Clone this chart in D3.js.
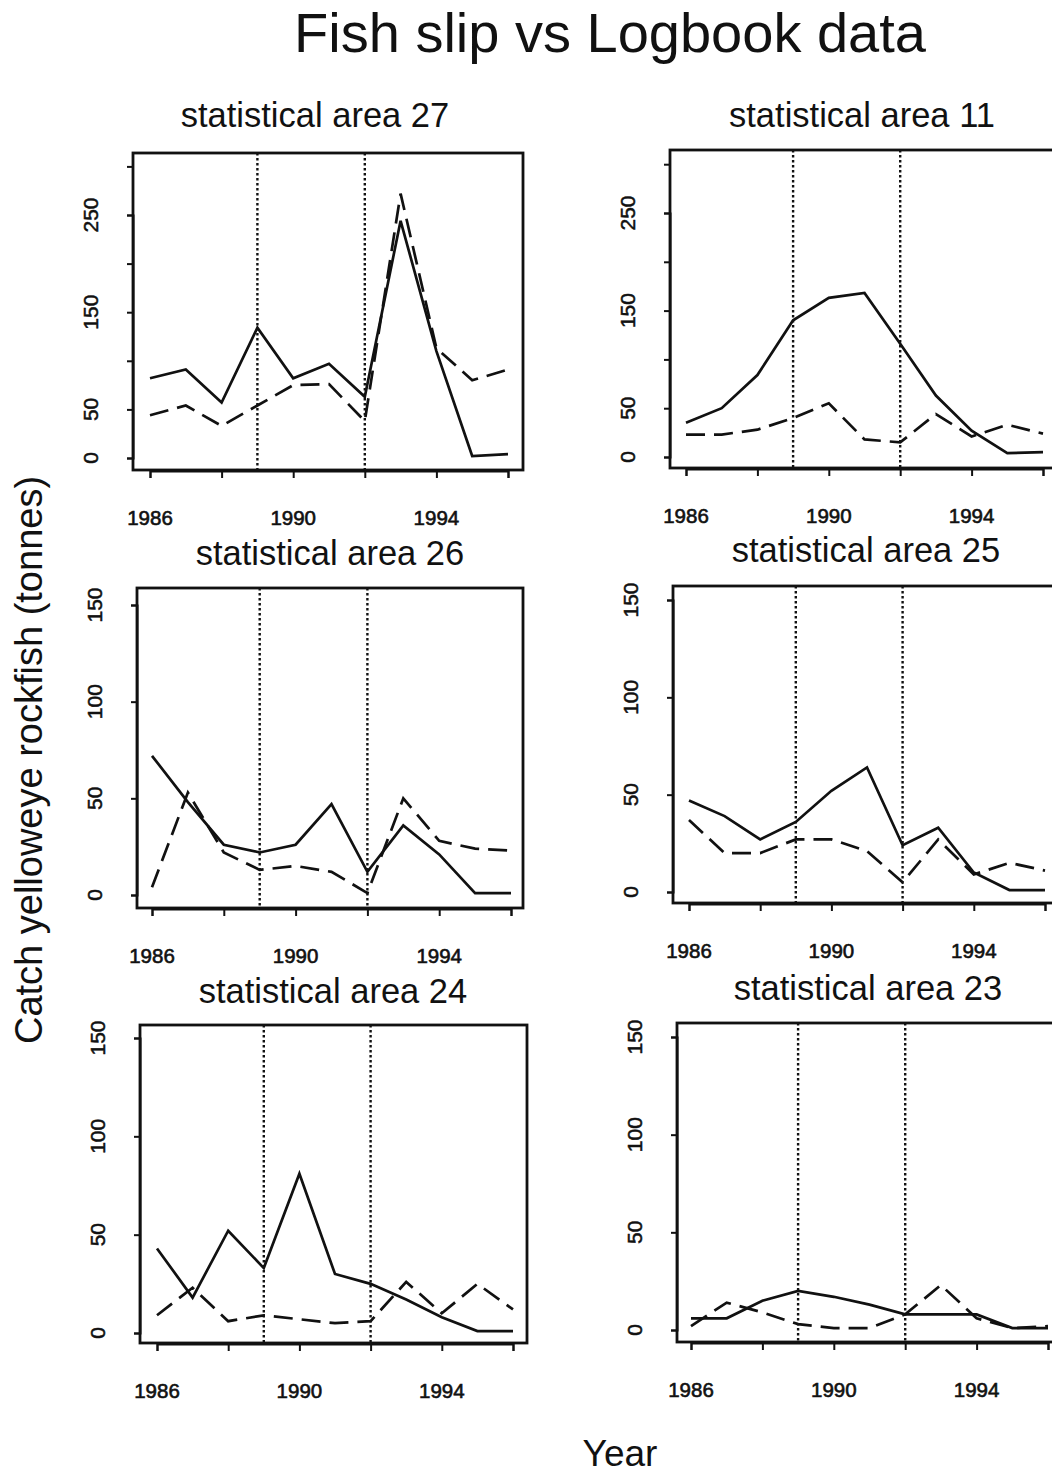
<!DOCTYPE html>
<html>
<head>
<meta charset="utf-8">
<script src="https://cdn.jsdelivr.net/npm/d3@7"></script>
<style>
  html, body { margin: 0; padding: 0; background: #fff; }
  svg { display: block; }
  text { font-family: "Liberation Sans", Arial, Helvetica, sans-serif; fill: #111; }
</style>
</head>
<body>
<svg id="chart" width="1052" height="1473"></svg>
<script>
// Annual catch of yelloweye rockfish (tonnes) by statistical area
const years = [1986, 1987, 1988, 1989, 1990, 1991, 1992, 1993, 1994, 1995, 1996];
const areas = ["27", "11", "26", "25", "24", "23"];

const fishSlip27 = [82, 91, 57, 134, 82, 97, 63, 244, 110, 2, 4];
const logbook27  = [44, 54, 33, 54, 75, 76, 38, 272, 113, 80, 91];
const fishSlip11 = [35, 50, 84, 140, 163, 168, 116, 63, 27, 4, 5];
const logbook11  = [23, 23, 28, 40, 55, 18, 15, 44, 21, 33, 24];
const fishSlip26 = [72, 48, 26, 22, 26, 47, 12, 36, 21, 1, 1];
const logbook26  = [4, 53, 22, 13, 15, 12, 1, 50, 28, 24, 23];
const fishSlip25 = [47, 39, 27, 36, 52, 64, 24, 33, 10, 1, 1];
const logbook25  = [37, 20, 20, 27, 27, 21, 5, 27, 9, 15, 11];
const fishSlip24 = [43, 18, 52, 33, 81, 30, 25, 17, 8, 1, 1];
const logbook24  = [9, 23, 6, 9, 7, 5, 6, 26, 10, 25, 12];
const fishSlip23 = [6, 6, 15, 20, 17, 13, 8, 8, 8, 1, 1];
const logbook23  = [2, 14, 9, 3, 1, 1, 8, 23, 6, 1, 2];

// Years where the reporting regime changed
const breakYears = [1989, 1992];

// Axis ticks and labels
const xTicks = [1986, 1988, 1990, 1992, 1994, 1996];
const xTickLabels = [1986, 1990, 1994];
const yTicksTop = [0, 50, 100, 150, 200, 250, 300];
const yTickLabelsTop = [0, 50, 150, 250];
const yTicksLow = [0, 50, 100, 150];
const yTickLabelsLow = [0, 50, 100, 150];

const seriesByArea = {
  "27": [fishSlip27, logbook27],
  "11": [fishSlip11, logbook11],
  "26": [fishSlip26, logbook26],
  "25": [fishSlip25, logbook25],
  "24": [fishSlip24, logbook24],
  "23": [fishSlip23, logbook23]
};

// Panel geometry: plot box, x pixel span for 1986..1996, y pixel span for 0..yRef
const layout = [
  { box: [133, 153, 523, 470], xr: [150, 508], yRef: 250, yr: [458, 215], tx: 315, ty: 127, top: true },
  { box: [670, 150, 1058, 468], xr: [686, 1043], yRef: 250, yr: [457, 213], tx: 862, ty: 127, top: true },
  { box: [137, 588, 523, 908], xr: [152, 511], yRef: 150, yr: [895, 605], tx: 330, ty: 565, top: false },
  { box: [673, 586, 1060, 903], xr: [689, 1045], yRef: 150, yr: [892, 600], tx: 866, ty: 562, top: false },
  { box: [140, 1025, 527, 1343], xr: [157, 513], yRef: 150, yr: [1333, 1038], tx: 333, ty: 1003, top: false },
  { box: [677, 1023, 1064, 1342], xr: [691, 1048], yRef: 150, yr: [1330, 1037], tx: 868, ty: 1000, top: false }
];

const svg = d3.select("#chart");

svg.append("text")
  .attr("x", 610).attr("y", 52)
  .attr("text-anchor", "middle")
  .attr("font-size", 56)
  .text("Fish slip vs Logbook data");

svg.append("text")
  .attr("transform", "translate(42,760) rotate(-90)")
  .attr("text-anchor", "middle")
  .attr("font-size", 38)
  .text("Catch yelloweye rockfish (tonnes)");

svg.append("text")
  .attr("x", 620).attr("y", 1466)
  .attr("text-anchor", "middle")
  .attr("font-size", 37)
  .text("Year");

areas.forEach((area, i) => {
  const L = layout[i];
  const [bx0, by0, bx1, by1] = L.box;
  const x = d3.scaleLinear().domain([1986, 1996]).range(L.xr);
  const y = d3.scaleLinear().domain([0, L.yRef]).range(L.yr);
  const g = svg.append("g");

  const yTicks = L.top ? yTicksTop : yTicksLow;
  const yLabels = L.top ? yTickLabelsTop : yTickLabelsLow;

  // Panel title
  g.append("text")
    .attr("x", L.tx).attr("y", L.ty)
    .attr("text-anchor", "middle")
    .attr("font-size", 34.5)
    .text("statistical area " + area);

  // Regime-change markers
  g.selectAll("line.brk").data(breakYears).join("line")
    .attr("class", "brk")
    .attr("x1", d => x(d)).attr("x2", d => x(d))
    .attr("y1", by0).attr("y2", by1)
    .attr("stroke", "#111").attr("stroke-width", 2.4)
    .attr("stroke-dasharray", "2.5,2.5");

  // Series lines
  const line = d3.line().x((d, j) => x(years[j])).y(d => y(d));
  const [solid, dashed] = seriesByArea[area];
  g.append("path").datum(solid)
    .attr("d", line).attr("fill", "none")
    .attr("stroke", "#111").attr("stroke-width", 2.7)
    .attr("stroke-linejoin", "miter");
  g.append("path").datum(dashed)
    .attr("d", line).attr("fill", "none")
    .attr("stroke", "#111").attr("stroke-width", 2.7)
    .attr("stroke-dasharray", "19,9");

  // Plot frame
  g.append("rect")
    .attr("x", bx0).attr("y", by0)
    .attr("width", bx1 - bx0).attr("height", by1 - by0)
    .attr("fill", "none").attr("stroke", "#111").attr("stroke-width", 2.8);

  // Y axis
  const yAxis = d3.axisLeft(y).tickValues(yTicks).tickSize(6).tickFormat("");
  const ya = g.append("g").attr("transform", `translate(${bx0},0)`).call(yAxis);
  ya.select(".domain").attr("stroke", "#111").attr("stroke-width", 2);
  ya.selectAll(".tick line").attr("stroke", "#111").attr("stroke-width", 2);
  g.selectAll("text.yl").data(yLabels).join("text")
    .attr("class", "yl")
    .attr("transform", d => `translate(${bx0 - 35},${y(d)}) rotate(-90)`)
    .attr("text-anchor", "middle")
    .attr("font-size", 21)
    .attr("stroke", "#111").attr("stroke-width", 0.5)
    .text(d => d);

  // X axis
  const xAxis = d3.axisBottom(x).tickValues(xTicks).tickSize(7).tickFormat("");
  const xa = g.append("g").attr("transform", `translate(0,${by1 + 1})`).call(xAxis);
  xa.select(".domain").attr("stroke", "#111").attr("stroke-width", 2);
  xa.selectAll(".tick line").attr("stroke", "#111").attr("stroke-width", 2);
  g.selectAll("text.xl").data(xTickLabels).join("text")
    .attr("class", "xl")
    .attr("x", d => x(d)).attr("y", by1 + 55)
    .attr("text-anchor", "middle")
    .attr("font-size", 20.5)
    .attr("stroke", "#111").attr("stroke-width", 0.6)
    .text(d => d);
});
</script>
</body>
</html>
